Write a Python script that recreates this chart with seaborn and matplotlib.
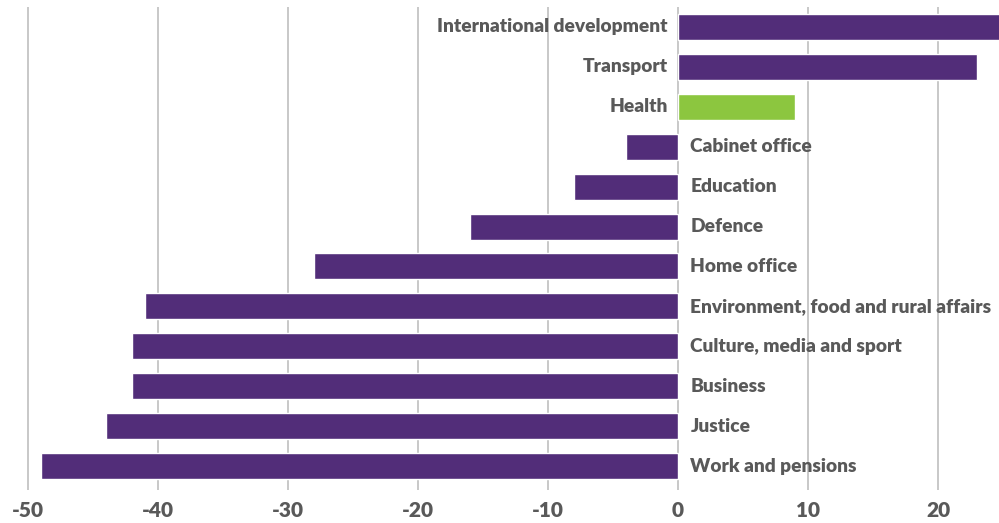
import matplotlib
matplotlib.use("Agg")
import matplotlib.pyplot as plt
import seaborn as sns
import pandas as pd

departments = [
    "International development", "Transport", "Health", "Cabinet office",
    "Education", "Defence", "Home office", "Environment, food and rural affairs",
    "Culture, media and sport", "Business", "Justice", "Work and pensions",
]
change_pct = [25, 23, 9, -4, -8, -16, -28, -41, -42, -42, -44, -49]
highlight = ["other", "other", "health", "other", "other", "other",
             "other", "other", "other", "other", "other", "other"]
x_ticks = [-50, -40, -30, -20, -10, 0, 10, 20]

df = pd.DataFrame({"dept": departments, "change": change_pct, "group": highlight})

sns.set_style("white")
plt.rcParams["font.family"] = ["Lato", "DejaVu Sans"]

PURPLE = "#522d79"
GREEN = "#8cc63f"
TEXT = "#595959"

fig = plt.figure(figsize=(9.99, 5.23), dpi=100)
ax = fig.add_axes([0.0, 1 - 490 / 523, 1.0, 483 / 523])

sns.barplot(data=df, x="change", y="dept", hue="group", order=departments,
            palette={"other": PURPLE, "health": GREEN}, dodge=False,
            width=0.65, legend=False, ax=ax, orient="h", saturation=1)

ax.set_xlim(-678 / 13, 321 / 13)
ax.set_ylim(11.6, -0.5)
ax.set_xticks(x_ticks)
ax.set_xticklabels([str(t) for t in x_ticks], fontsize=15,
                   fontweight="heavy", color=TEXT)
ax.tick_params(axis="x", length=0, pad=8)
ax.set_yticks([])
ax.set_xlabel("")
ax.set_ylabel("")
for s in ax.spines.values():
    s.set_visible(False)
ax.grid(axis="x", color="#c4c4c4", linewidth=1.3)
ax.set_axisbelow(True)

for i, (name, v) in enumerate(zip(departments, change_pct)):
    if v >= 0:
        ax.annotate(name, (0, i), xytext=(-7.5, 0), textcoords="offset points",
                    ha="right", va="center", fontsize=13.8, fontweight="heavy",
                    color=TEXT)
    else:
        ax.annotate(name, (0, i), xytext=(9, 0), textcoords="offset points",
                    ha="left", va="center", fontsize=13.8, fontweight="heavy",
                    color=TEXT)

fig.savefig("out.png", dpi=100)
